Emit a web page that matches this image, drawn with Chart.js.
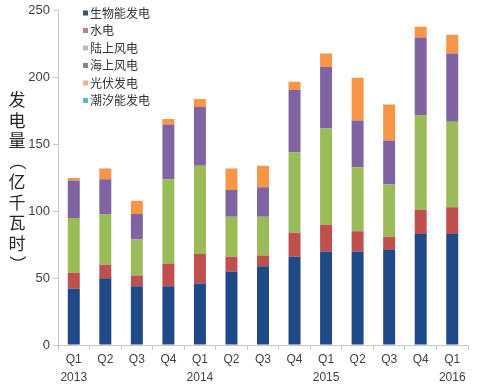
<!DOCTYPE html>
<html>
<head>
<meta charset="utf-8">
<script src="https://cdn.jsdelivr.net/npm/chart.js@4/dist/chart.umd.min.js"></script>
<style>
  html, body { margin: 0; padding: 0; background: #fff; }
  #wrap { width: 486px; height: 390px; position: relative; }
</style>
</head>
<body>
<div id="wrap"><canvas id="c" width="486" height="390"></canvas></div>
<script>
/* ============ DATA ============ */
const quarters = [["Q1","2013"],"Q2","Q3","Q4",["Q1","2014"],"Q2","Q3","Q4",["Q1","2015"],"Q2","Q3","Q4",["Q1","2016"]];
const seriesNames = ["生物能发电","水电","陆上风电","海上风电","光伏发电","潮汐能发电"];
const biomass  = [42, 50, 44, 44, 46, 55, 59, 66, 70, 70, 71, 83, 83];
const hydro    = [12, 10,  8, 17, 22, 11,  8, 18, 20, 15, 10, 18, 20];
const onshore  = [41, 38, 27, 63, 66, 30, 29, 60, 72, 48, 39, 71, 64];
const offshore = [28, 26, 19, 41, 44, 20, 22, 47, 46, 35, 33, 58, 51];
const solar    = [ 2,  8, 10,  4,  6, 16, 16,  6, 10, 32, 27,  8, 14];
const tidal    = [ 0,  0,  0,  0,  0,  0,  0,  0,  0,  0,  0,  0,  0];
const yTicks   = [0, 50, 100, 150, 200, 250];
const yTitle   = ["发","电","量","（","亿","千","瓦","时","）"];

const colors = ["#1f4a87", "#c0504d", "#9bbb59", "#8064a2", "#f79646", "#4bacc6"];
const legendColors = ["#3d5566", "#b98280", "#b3c6a6", "#85809a", "#e2b894", "#5ab7c8"];
const allData = [biomass, hydro, onshore, offshore, solar, tidal];

/* ============ PLUGINS ============ */
// legend drawn inside the plot, top-left
const innerLegend = {
  id: "innerLegend",
  afterDraw(chart) {
    const ctx = chart.ctx;
    ctx.save();
    ctx.font = "12px 'Noto Sans CJK SC', sans-serif";
    ctx.textBaseline = "middle";
    seriesNames.forEach((name, i) => {
      const y = 13 + i * 17.5;
      ctx.fillStyle = legendColors[i];
      ctx.fillRect(83, y - 2.5, 5, 5);
      ctx.fillStyle = "#333";
      ctx.fillText(name, 90, y);
    });
    ctx.restore();
  }
};

// vertical y title, upright characters (brackets turned sideways)
const vTitle = {
  id: "vTitle",
  afterDraw(chart) {
    const ctx = chart.ctx;
    ctx.save();
    ctx.font = "17px 'Noto Sans CJK SC', sans-serif";
    ctx.fillStyle = "#262626";
    ctx.textAlign = "center";
    ctx.textBaseline = "middle";
    yTitle.forEach((ch, i) => {
      const y = 100 + i * 20.5;
      if (ch === "（" || ch === "）") {
        ctx.save();
        ctx.translate(17, y);
        ctx.rotate(Math.PI / 2);
        ctx.fillText(ch, 0, 0);
        ctx.restore();
      } else {
        ctx.fillText(ch, 17, y);
      }
    });
    ctx.restore();
  }
};

/* ============ CHART ============ */
new Chart(document.getElementById("c"), {
  type: "bar",
  data: {
    labels: quarters,
    datasets: allData.map((d, i) => ({
      label: seriesNames[i],
      data: d,
      backgroundColor: colors[i],
      borderWidth: 0,
      barPercentage: 0.38,
      categoryPercentage: 1
    }))
  },
  options: {
    responsive: false,
    animation: false,
    layout: { padding: { top: 10, right: 18, left: 0, bottom: 0 } },
    plugins: { legend: { display: false }, tooltip: { enabled: false } },
    scales: {
      x: {
        stacked: true,
        grid: { offset: true, drawOnChartArea: false, tickLength: 5, color: "#c8c8c8" },
        border: { color: "#c8c8c8" },
        ticks: {
          color: "#404040",
          font: { family: "'Liberation Sans', Arial, sans-serif", size: 12, lineHeight: 1.5 },
          padding: 1,
          maxRotation: 0,
          autoSkip: false
        },
        afterFit(scale) { scale.height = 45; }
      },
      y: {
        stacked: true,
        min: 0,
        max: 250,
        afterBuildTicks(scale) { scale.ticks = yTicks.map(v => ({ value: v })); },
        grid: { drawOnChartArea: false, tickLength: 5, color: "#c8c8c8" },
        border: { color: "#c8c8c8" },
        ticks: {
          color: "#404040",
          font: { family: "'Liberation Sans', Arial, sans-serif", size: 13 },
          padding: 3
        },
        afterFit(scale) { scale.width = 58; }
      }
    }
  },
  plugins: [innerLegend, vTitle]
});
</script>
</body>
</html>
